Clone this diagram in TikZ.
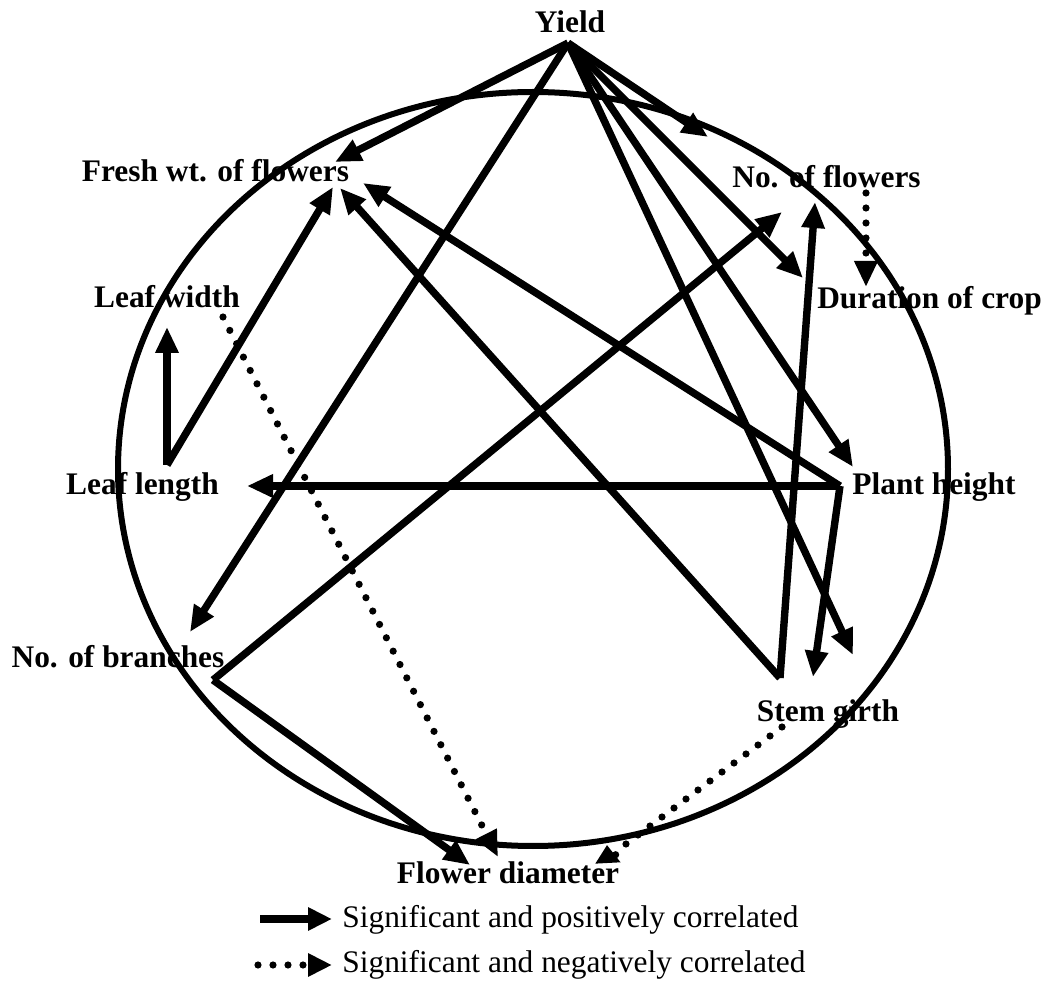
\documentclass[tikz,border=0pt]{standalone}
\usepackage{fontspec}
\setmainfont{Liberation Serif}
\usetikzlibrary{arrows.meta}
\begin{document}
\begin{tikzpicture}[x=0.5pt,y=-0.5pt,
 lbl/.style={font=\fontsize{15.7}{18}\selectfont\bfseries, inner sep=0pt, anchor=base},
 legtext/.style={font=\fontsize{15.7}{18}\selectfont, inner sep=0pt, anchor=base west},
 posarrow/.style={line width=3.7pt, -{Triangle[length=13pt,width=11pt]}},
 negarrow/.style={line width=3.6pt, line cap=round, dash pattern=on 0pt off 7.5pt, -{Triangle[length=13pt,width=11pt]}},
 ring/.style={line width=3pt}]

\useasboundingbox (0,0) rectangle (1046,984);

% enclosing ellipse
\draw[ring] (533,469) ellipse [x radius=415, y radius=377];

% labels
\node[lbl] (yield) at (570,33) {Yield};
\node[lbl] (fw) at (215.5,182) {Fresh wt. of flowers};
\node[lbl] (nf) at (826.5,188) {No. of flowers};
\node[lbl] (dc) at (929.5,309) {Duration of crop};
\node[lbl] (lw) at (167,308) {Leaf width};
\node[lbl] (ll) at (142.5,495) {Leaf length};
\node[lbl] (nb) at (118,668) {No. of branches};
\node[lbl] (ph) at (934,495) {Plant height};
\node[lbl] (sg) at (828,722) {Stem girth};
\node[lbl] (fd) at (508,883) {Flower diameter};

% ports
\coordinate (Y) at (568,43);
\coordinate (PHo) at (840,486);
\coordinate (SGo) at (780,678);
\coordinate (NBo) at (213,680);
\coordinate (LLo) at (167,465);
\coordinate (LWo) at (223,317);
\coordinate (NFo) at (866,193);
\coordinate (SGd) at (782,727);
\coordinate (SGm) at (622,847);
\coordinate (FWi1) at (335,162);
\coordinate (FWi2) at (333,187);
\coordinate (FWi3) at (340,188);
\coordinate (FWi4) at (363,183);
\coordinate (NBi) at (190,632);
\coordinate (NFi1) at (708,137);
\coordinate (NFi2) at (815,202);
\coordinate (NFi3) at (782,212);
\coordinate (DCi1) at (803,278);
\coordinate (DCi2) at (866,287);
\coordinate (PHi) at (853,467);
\coordinate (SGi1) at (853,655);
\coordinate (SGi2) at (813,677);
\coordinate (LWi) at (167,327);
\coordinate (LLi) at (247,486);
\coordinate (FDi1) at (470,865);
\coordinate (FDi2) at (498,857);
\coordinate (FDk) at (608,864);
\coordinate (FDi3) at (607,845);

% positive correlations
\draw[posarrow] (Y) -- (FWi1);
\draw[posarrow] (Y) -- (NBi);
\draw[posarrow] (Y) -- (NFi1);
\draw[posarrow] (Y) -- (DCi1);
\draw[posarrow] (Y) -- (PHi);
\draw[posarrow] (Y) -- (SGi1);
\draw[posarrow] (LLo) -- (LWi);
\draw[posarrow] (LLo) -- (FWi2);
\draw[posarrow] (PHo) -- (LLi);
\draw[posarrow] (PHo) -- (FWi4);
\draw[posarrow] (PHo) -- (SGi2);
\draw[posarrow] (SGo) -- (FWi3);
\draw[posarrow] (SGo) -- (NFi2);
\draw[posarrow] (NBo) -- (NFi3);
\draw[posarrow] (NBo) -- (FDi1);

% negative correlations
\draw[negarrow] (LWo) -- (FDi2);
\draw[negarrow] (NFo) -- (DCi2);
\draw[negarrow, -{Triangle[length=9pt,width=12pt]}] (SGd) -- (SGm) -- (FDk) -- (FDi3);

% legend
\coordinate (l1a) at (260,919);
\coordinate (l1b) at (332,919);
\coordinate (l2a) at (258,965);
\coordinate (l2b) at (332,965);
\draw[posarrow, -{Triangle[length=12pt,width=11pt]}] (l1a) -- (l1b);
\draw[negarrow, -{Triangle[length=12pt,width=11pt]}] (l2a) -- (l2b);
\node[legtext] (leg1) at (342,927) {Significant and positively correlated};
\node[legtext] (leg2) at (342,972) {Significant and negatively correlated};
\end{tikzpicture}
\end{document}
